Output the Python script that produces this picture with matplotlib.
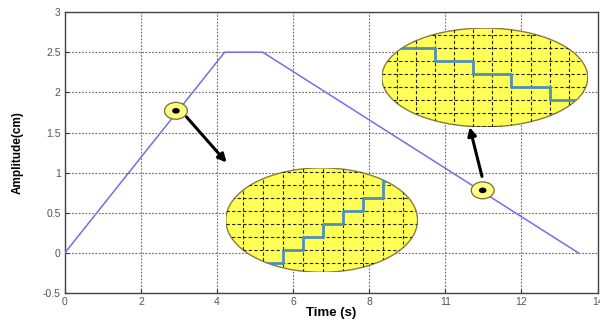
import numpy as np
import matplotlib.pyplot as plt
from matplotlib.patches import Ellipse

plt.rcParams['font.family'] = ['Liberation Sans', 'DejaVu Sans']

# trapezoid profile
time_s = [0, 4.2, 5.2, 13.5]
amp_cm = [0, 2.5, 2.5, 0]

x_ticks = [0, 2, 4, 6, 8, 10, 12, 14]
x_ticklabels = ['0', '2', '4', '6', '8', '11', '12', '14']
y_ticks = [-0.5, 0, 0.5, 1, 1.5, 2, 2.5, 3]
y_ticklabels = ['-0.5', '0', '0.5', '1', '1.5', '2', '2.5', '3']

# small marker points on the line
marker_x = [2.92, 10.98]
marker_y = [1.77, 0.78]

# zoomed staircases (in grid cell units)
stair_up_x = [0, 1, 2, 3, 4, 5, 6, 7]
stair_up_y = [0, 1, 2, 3, 4, 5, 6.3]
stair_down_x = [0, 2, 4, 6, 8, 9.3]
stair_down_y = [4, 3, 2, 1, 0]

fig = plt.figure(figsize=(6, 3.25), dpi=100)
ax = fig.add_axes([0.108, 0.098, 0.888, 0.865])

ax.plot(time_s, amp_cm, color='#7070e4', lw=1.1, zorder=3)
ax.set_xlim(0, 14)
ax.set_ylim(-0.5, 3)
ax.set_xticks(x_ticks)
ax.set_xticklabels(x_ticklabels)
ax.set_yticks(y_ticks)
ax.set_yticklabels(y_ticklabels)
ax.tick_params(direction='in', length=3, labelsize=7.5, colors='#333333',
               labelcolor='#555555', pad=3)
ax.grid(True, linestyle=(0, (1.5, 1.5)), color='#666666', lw=0.8)
for s in ax.spines.values():
    s.set_color('#444444')
    s.set_linewidth(1.0)
ax.set_xlabel('Time (s)', fontsize=9.5, fontweight='bold', labelpad=0)
ax.set_ylabel('Amplitude(cm)', fontsize=8.5, fontweight='bold', labelpad=14)

# small markers
for mx, my in zip(marker_x, marker_y):
    ax.add_patch(Ellipse((mx, my), 0.6, 0.21, facecolor='#ffff88',
                         edgecolor='#7a6a30', lw=0.9, zorder=5))
    ax.add_patch(Ellipse((mx, my), 0.2, 0.07, facecolor='black', zorder=6))

# arrows
ax.annotate('', xy=(4.3, 1.1), xytext=(3.15, 1.72),
            arrowprops=dict(arrowstyle='-|>', color='black', lw=2.2,
                            mutation_scale=12), zorder=6)
ax.annotate('', xy=(10.62, 1.6), xytext=(10.98, 0.92),
            arrowprops=dict(arrowstyle='-|>', color='black', lw=2.2,
                            mutation_scale=12), zorder=6)


def zoom_bubble(bounds, xlim, ylim, sx, sy, how):
    ins = ax.inset_axes(bounds, transform=ax.transData)
    ins.set_xlim(*xlim)
    ins.set_ylim(*ylim)
    ins.axis('off')
    ell = Ellipse((0.5, 0.5), 1, 1, transform=ins.transAxes,
                  facecolor='#ffff55', edgecolor='#8a7a40', lw=1.0)
    ins.add_patch(ell)
    for gx in range(int(np.ceil(xlim[0])), int(xlim[1]) + 1):
        ln, = ins.plot([gx, gx], ylim, color='#222222', lw=0.8,
                       linestyle=(0, (3, 2)))
        ln.set_clip_path(ell)
    for gy in range(int(np.ceil(ylim[0])), int(ylim[1]) + 1):
        ln, = ins.plot(xlim, [gy, gy], color='#222222', lw=0.8,
                       linestyle=(0, (3, 2)))
        ln.set_clip_path(ell)
    st, = ins.step(sx, list(sy) + [sy[-1]], where=how,
                   color='#4f8fb8', lw=2.0)
    st.set_clip_path(ell)
    return ins


zoom_bubble([4.23, -0.24, 5.04, 1.30], (-1.85, 7.75), (-0.7, 7.3),
            stair_up_x, stair_up_y, 'post')
zoom_bubble([8.33, 1.57, 5.41, 1.23], (-0.8, 10.0), (-2.1, 5.5),
            stair_down_x, stair_down_y, 'post')

fig.savefig('out.png', dpi=100)
